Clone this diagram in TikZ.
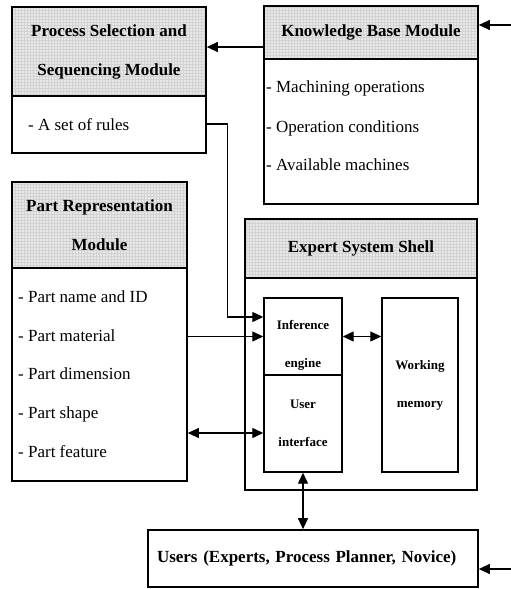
\documentclass[tikz,border=0pt]{standalone}
\usepackage{fontspec}
\setmainfont{Liberation Serif}
\usetikzlibrary{arrows.meta,patterns,positioning,calc}

\begin{document}
\begin{tikzpicture}[x=1pt, y=-1pt,
    box/.style={draw, line width=1.7pt, inner sep=0pt},
    head/.style={box, preaction={fill=gray!18}, pattern=grid, pattern color=gray!35, align=center, font=\fontsize{17}{39}\selectfont\bfseries},
    body/.style={box, fill=white},
    item/.style={anchor=base west, inner sep=0pt, font=\fontsize{17}{20}\selectfont},
    intext/.style={inner sep=0pt, align=center, font=\fontsize{13}{38}\selectfont\bfseries},
    inbox/.style={intext, draw, line width=1.4pt},
    arr/.style={-{Triangle[length=11pt, width=10pt]}, line width=1.2pt},
    dbl/.style={{Triangle[length=11pt, width=10pt]}-{Triangle[length=11pt, width=10pt]}, line width=1.2pt}]
    \useasboundingbox (0,0) rectangle (511,589);

    % Process selection module
    \node[head, minimum width=194pt, minimum height=89pt] (psshead) at (109,51.5) {Process Selection and\\Sequencing Module};
    \node[body, minimum width=194pt, minimum height=57pt] (pssbody) at (109,124.5) {};
    \node[item] (rules) at (28,130) {- A set of rules};

    % Knowledge base module
    \node[head, minimum width=214pt, minimum height=53pt] (kbhead) at (371,32.5) {Knowledge Base Module};
    \node[body, minimum width=214pt, minimum height=145pt] (kbbody) at (371,131.5) {};
    \node[item] (machops) at (266,92) {- Machining operations};
    \node[item] (opcond) at (266,132) {- Operation conditions};
    \node[item] (machines) at (266,170) {- Available machines};

    % Part representation module
    \node[head, minimum width=175pt, minimum height=86pt] (prhead) at (99.5,225) {Part Representation\\Module};
    \node[body, minimum width=175pt, minimum height=213pt] (prbody) at (99.5,374.5) {};
    \node[item] (partname) at (18,302) {- Part name and ID};
    \node[item] (material) at (18,341) {- Part material};
    \node[item] (dimension) at (18,379) {- Part dimension};
    \node[item] (shape) at (18,418) {- Part shape};
    \node[item] (feature) at (18,457) {- Part feature};

    % Expert system shell
    \node[head, minimum width=232pt, minimum height=59pt] (eshead) at (361,248.5) {Expert System Shell};
    \node[body, minimum width=232pt, minimum height=212pt] (esbody) at (361,384) {};
    \node[inbox, minimum width=78pt, minimum height=77pt] (inf) at (303,336.5) {};
    \node[intext] (inftext) at (303,345) {Inference\\engine};
    \node[inbox, minimum width=78pt, minimum height=97pt] (ui) at (303,423.5) {User\\interface};
    \node[inbox, minimum width=76pt, minimum height=174pt] (wm) at (420,385) {Working\\memory};

    % Users
    \node[box, minimum height=57pt, text width=312pt, inner xsep=9pt, align=left, font=\fontsize{17}{20}\selectfont\bfseries] (users) at (313,558.5) {Users (Experts, Process Planner, Novice)};

    % Arrows
    \coordinate (kbin) at (511,25);
    \coordinate (kbout) at ([yshift=4.5pt]psshead.east);
    \coordinate (uiin) at ([yshift=-9.5pt]ui.west);
    \coordinate (usersin) at (511,569);
    \draw[arr] (kbin) -- (kbin -| kbhead.east);
    \draw[arr] (kbout -| kbhead.west) -- (kbout);
    \draw[arr] (rules -| pssbody.east) -- ++(21,0) |- ([yshift=19.5pt]inf.west);
    \draw[arr] (prbody.east |- inf.west) -- (inf.west);
    \draw[dbl] (prbody.east |- uiin) -- (uiin);
    \draw[dbl] (inf.east) -- (inf.east -| wm.west);
    \draw[dbl] (users.north -| ui.south) -- (ui.south);
    \draw[arr] (usersin) -- (usersin -| users.east);
\end{tikzpicture}
\end{document}
